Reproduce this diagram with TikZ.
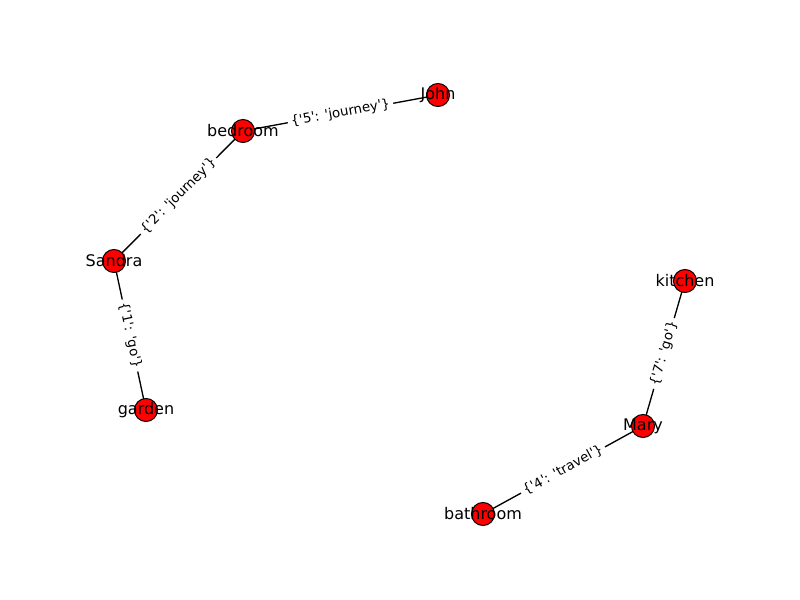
\documentclass[tikz,border=0pt]{standalone}
\usepackage{fontspec}
\setmainfont{DejaVu Sans}
\newcommand\sq{\textquotesingle}
\pgfdeclarelayer{background}
\pgfsetlayers{background,main}
\begin{document}
\begin{tikzpicture}[x=0.75pt,y=-0.75pt,
  vtx/.style={circle,draw=black,line width=0.75pt,fill=red,minimum size=17.3pt,inner sep=0pt},
  vlab/.style={font=\fontsize{12}{14}\selectfont,text=black,inner sep=0pt},
  elab/.style={midway,sloped,fill=white,rounded corners=2pt,inner sep=2.5pt,font=\fontsize{10}{12}\selectfont,text=black},
  edge/.style={draw=black,line width=1pt}]
\useasboundingbox (0,0) rectangle (800,600);
\node[vtx] (John) at (438,95) {};
\node[vtx] (bedroom) at (243,131) {};
\node[vtx] (Sandra) at (114,261) {};
\node[vtx] (garden) at (146,410) {};
\node[vtx] (kitchen) at (685,281) {};
\node[vtx] (Mary) at (643,426) {};
\node[vtx] (bathroom) at (483,514) {};
\node[vlab] (tJohn) at (John.center) {John};
\node[vlab] (tbedroom) at (bedroom.center) {bedroom};
\node[vlab] (tSandra) at (Sandra.center) {Sandra};
\node[vlab] (tgarden) at (garden.center) {garden};
\node[vlab] (tkitchen) at (kitchen.center) {kitchen};
\node[vlab] (tMary) at (Mary.center) {Mary};
\node[vlab] (tbathroom) at (bathroom.center) {bathroom};
\begin{pgfonlayer}{background}
\draw[edge] (bedroom.center) -- (John.center);
\draw[edge] (Sandra.center) -- (bedroom.center);
\draw[edge] (Sandra.center) -- (garden.center);
\draw[edge] (Mary.center) -- (kitchen.center);
\draw[edge] (bathroom.center) -- (Mary.center);
\end{pgfonlayer}
\path (bedroom.center) -- node[elab] (l5) {\{\sq5\sq: \sq journey\sq\}} (John.center);
\path (Sandra.center) -- node[elab] (l2) {\{\sq2\sq: \sq journey\sq\}} (bedroom.center);
\path (Sandra.center) -- node[elab] (l1) {\{\sq1\sq: \sq go\sq\}} (garden.center);
\path (Mary.center) -- node[elab] (l7) {\{\sq7\sq: \sq go\sq\}} (kitchen.center);
\path (bathroom.center) -- node[elab] (l4) {\{\sq4\sq: \sq travel\sq\}} (Mary.center);
\end{tikzpicture}
\end{document}
